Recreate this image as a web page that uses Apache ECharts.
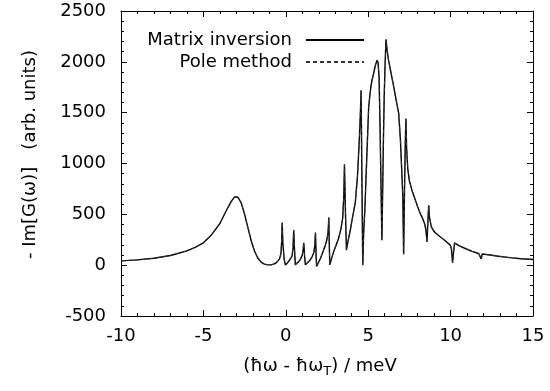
<!DOCTYPE html>
<html><head><meta charset="utf-8">
<script src="https://cdn.jsdelivr.net/npm/echarts@6/dist/echarts.min.js"></script>
<style>html,body{margin:0;padding:0;background:#fff}#c{width:550px;height:391px}</style>
</head><body><div id="c"></div>
<script>
// x values: (hbar*omega - hbar*omega_T) in meV
const energy = [
  -10,-9,-8,-7,-6,-5.5,-5,-4.5,-4,-3.6,-3.3,-3.1,-3,-2.9,-2.7,-2.5,-2.3,-2.1,-1.9,-1.7,-1.5,-1.3,-1.1,-0.9,-0.7,-0.55,-0.45,-0.38,-0.3,-0.25,-0.22,-0.18,-0.1,-0.03,
  0.1,0.2,0.3,0.38,0.44,0.48,0.53,0.58,
  0.7,0.8,0.9,1.0,1.05,1.09,1.14,1.19,
  1.3,1.45,1.6,1.7,1.76,1.8,1.84,1.87,
  1.95,2.1,2.25,2.4,2.5,2.57,2.61,2.64,2.67,
  2.75,2.9,3.05,3.2,3.35,3.45,3.52,3.56,3.62,3.68,
  3.8,3.92,4.05,4.22,4.35,4.46,4.52,4.57,4.62,4.67,
  4.72,4.8,4.9,5.03,5.15,5.23,5.35,5.45,5.54,5.6,5.66,5.72,5.78,5.83,
  5.87,5.92,5.97,6.02,6.08,6.15,6.24,6.4,6.55,6.7,6.85,6.95,7.03,7.1,7.15,
  7.2,7.25,7.29,7.33,7.4,7.5,7.65,7.86,8.0,8.16,8.3,8.42,8.5,8.57,8.62,8.67,8.72,8.83,
  9.0,9.27,9.6,9.98,10.05,10.12,10.18,10.24,10.5,10.89,11.3,11.7,11.8,11.86,11.92,11.97,12.4,12.9,13.7,14.3,15
];
// - Im[G(omega)], matrix inversion
const matrixInversion = [
  42,52,68,95,140,175,220,300,410,540,630,672,678,668,610,500,370,240,140,70,30,10,3,3,12,28,45,62,110,230,420,220,60,3,
  22,45,68,90,170,344,150,3,
  18,38,62,100,150,220,90,3,
  15,45,85,125,190,321,90,-12,
  15,66,130,197,255,330,469,200,3,
  50,131,195,262,360,460,680,990,520,147,
  255,350,470,620,880,1230,1470,1720,820,0,
  300,560,1000,1560,1740,1819,1900,1975,2016,1990,1850,1350,760,246,
  650,1200,1650,1950,2219,2110,2010,1880,1753,1620,1494,1250,950,680,108,
  700,1200,1442,1150,950,830,740,640,575,508,460,410,350,229,420,590,470,377,
  330,292,250,197,160,23,130,219,192,164,135,115,100,62,110,118,100,88,72,63,56
];
// - Im[G(omega)], pole method (coincides with matrix inversion)
const poleMethod = matrixInversion.slice();

const seriesNames = ['Matrix inversion', 'Pole method'];
const xTickRange = {min: -10, max: 15, interval: 5};
const yTickRange = {min: -500, max: 2500, interval: 500};

const FONT = 'DejaVu Sans';
const FS = 18;
const pairs = (ys) => energy.map((x, i) => [x, ys[i]]).filter(p => p[1] !== undefined);

const tickCommon = {
  axisLine: {show: true, onZero: false, lineStyle: {color: '#000', width: 1}},
  axisTick: {show: true, inside: true, length: 6, lineStyle: {color: '#000', width: 1}},
  minorTick: {show: true, splitNumber: 5, length: 3, lineStyle: {color: '#000', width: 1}},
  splitLine: {show: false},
  minorSplitLine: {show: false}
};
const plainNum = (v) => String(v);

const chart = echarts.init(document.getElementById('c'), null, {renderer: 'canvas'});
chart.setOption({
  animation: false,
  backgroundColor: '#fff',
  grid: {left: 121, right: 17, top: 11, bottom: 75, containLabel: false},
  legend: {
    orient: 'vertical', align: 'right', right: 185, top: 31, padding: 0,
    itemWidth: 58, itemHeight: 14, itemGap: 4,
    itemStyle: {opacity: 0},
    textStyle: {fontFamily: FONT, fontSize: FS, color: '#000', padding: [0, 9, 0, 0]},
    data: seriesNames
  },
  xAxis: [
    Object.assign({
      type: 'value', position: 'bottom', min: xTickRange.min, max: xTickRange.max, interval: xTickRange.interval,
      axisLabel: {fontFamily: FONT, fontSize: FS, color: '#000', margin: 11, formatter: plainNum},
      name: '(ħω - ħω{sub|T}) / meV', nameLocation: 'middle', nameGap: 39,
      nameTextStyle: {fontFamily: FONT, fontSize: FS, color: '#000', padding: [0, 14, 0, 0],
        rich: {sub: {fontFamily: FONT, fontSize: 13, color: '#000', verticalAlign: 'bottom', padding: [10, 0, 0, 0]}}}
    }, tickCommon),
    Object.assign({
      type: 'value', position: 'top', min: xTickRange.min, max: xTickRange.max, interval: xTickRange.interval,
      axisLabel: {show: false}
    }, tickCommon)
  ],
  yAxis: [
    Object.assign({
      type: 'value', position: 'left', min: yTickRange.min, max: yTickRange.max, interval: yTickRange.interval,
      axisLabel: {fontFamily: FONT, fontSize: FS, color: '#000', margin: 15, formatter: plainNum},
      name: '- Im[G(ω)]   (arb. units)', nameLocation: 'middle', nameGap: 82,
      nameTextStyle: {fontFamily: FONT, fontSize: FS, color: '#000', padding: [0, 0, 0, 18]}
    }, tickCommon),
    Object.assign({
      type: 'value', position: 'right', min: yTickRange.min, max: yTickRange.max, interval: yTickRange.interval,
      axisLabel: {show: false}
    }, tickCommon)
  ],
  series: [
    {name: seriesNames[0], type: 'line', xAxisIndex: 0, yAxisIndex: 0, data: pairs(matrixInversion),
     symbol: 'none', color: '#000', lineStyle: {color: '#000', width: 1.4}, z: 2},
    {name: seriesNames[1], type: 'line', xAxisIndex: 0, yAxisIndex: 0, data: pairs(poleMethod),
     symbol: 'none', color: '#333', lineStyle: {color: '#333', width: 1, type: [4, 3]}, z: 3}
  ]
});
</script>
</body></html>
